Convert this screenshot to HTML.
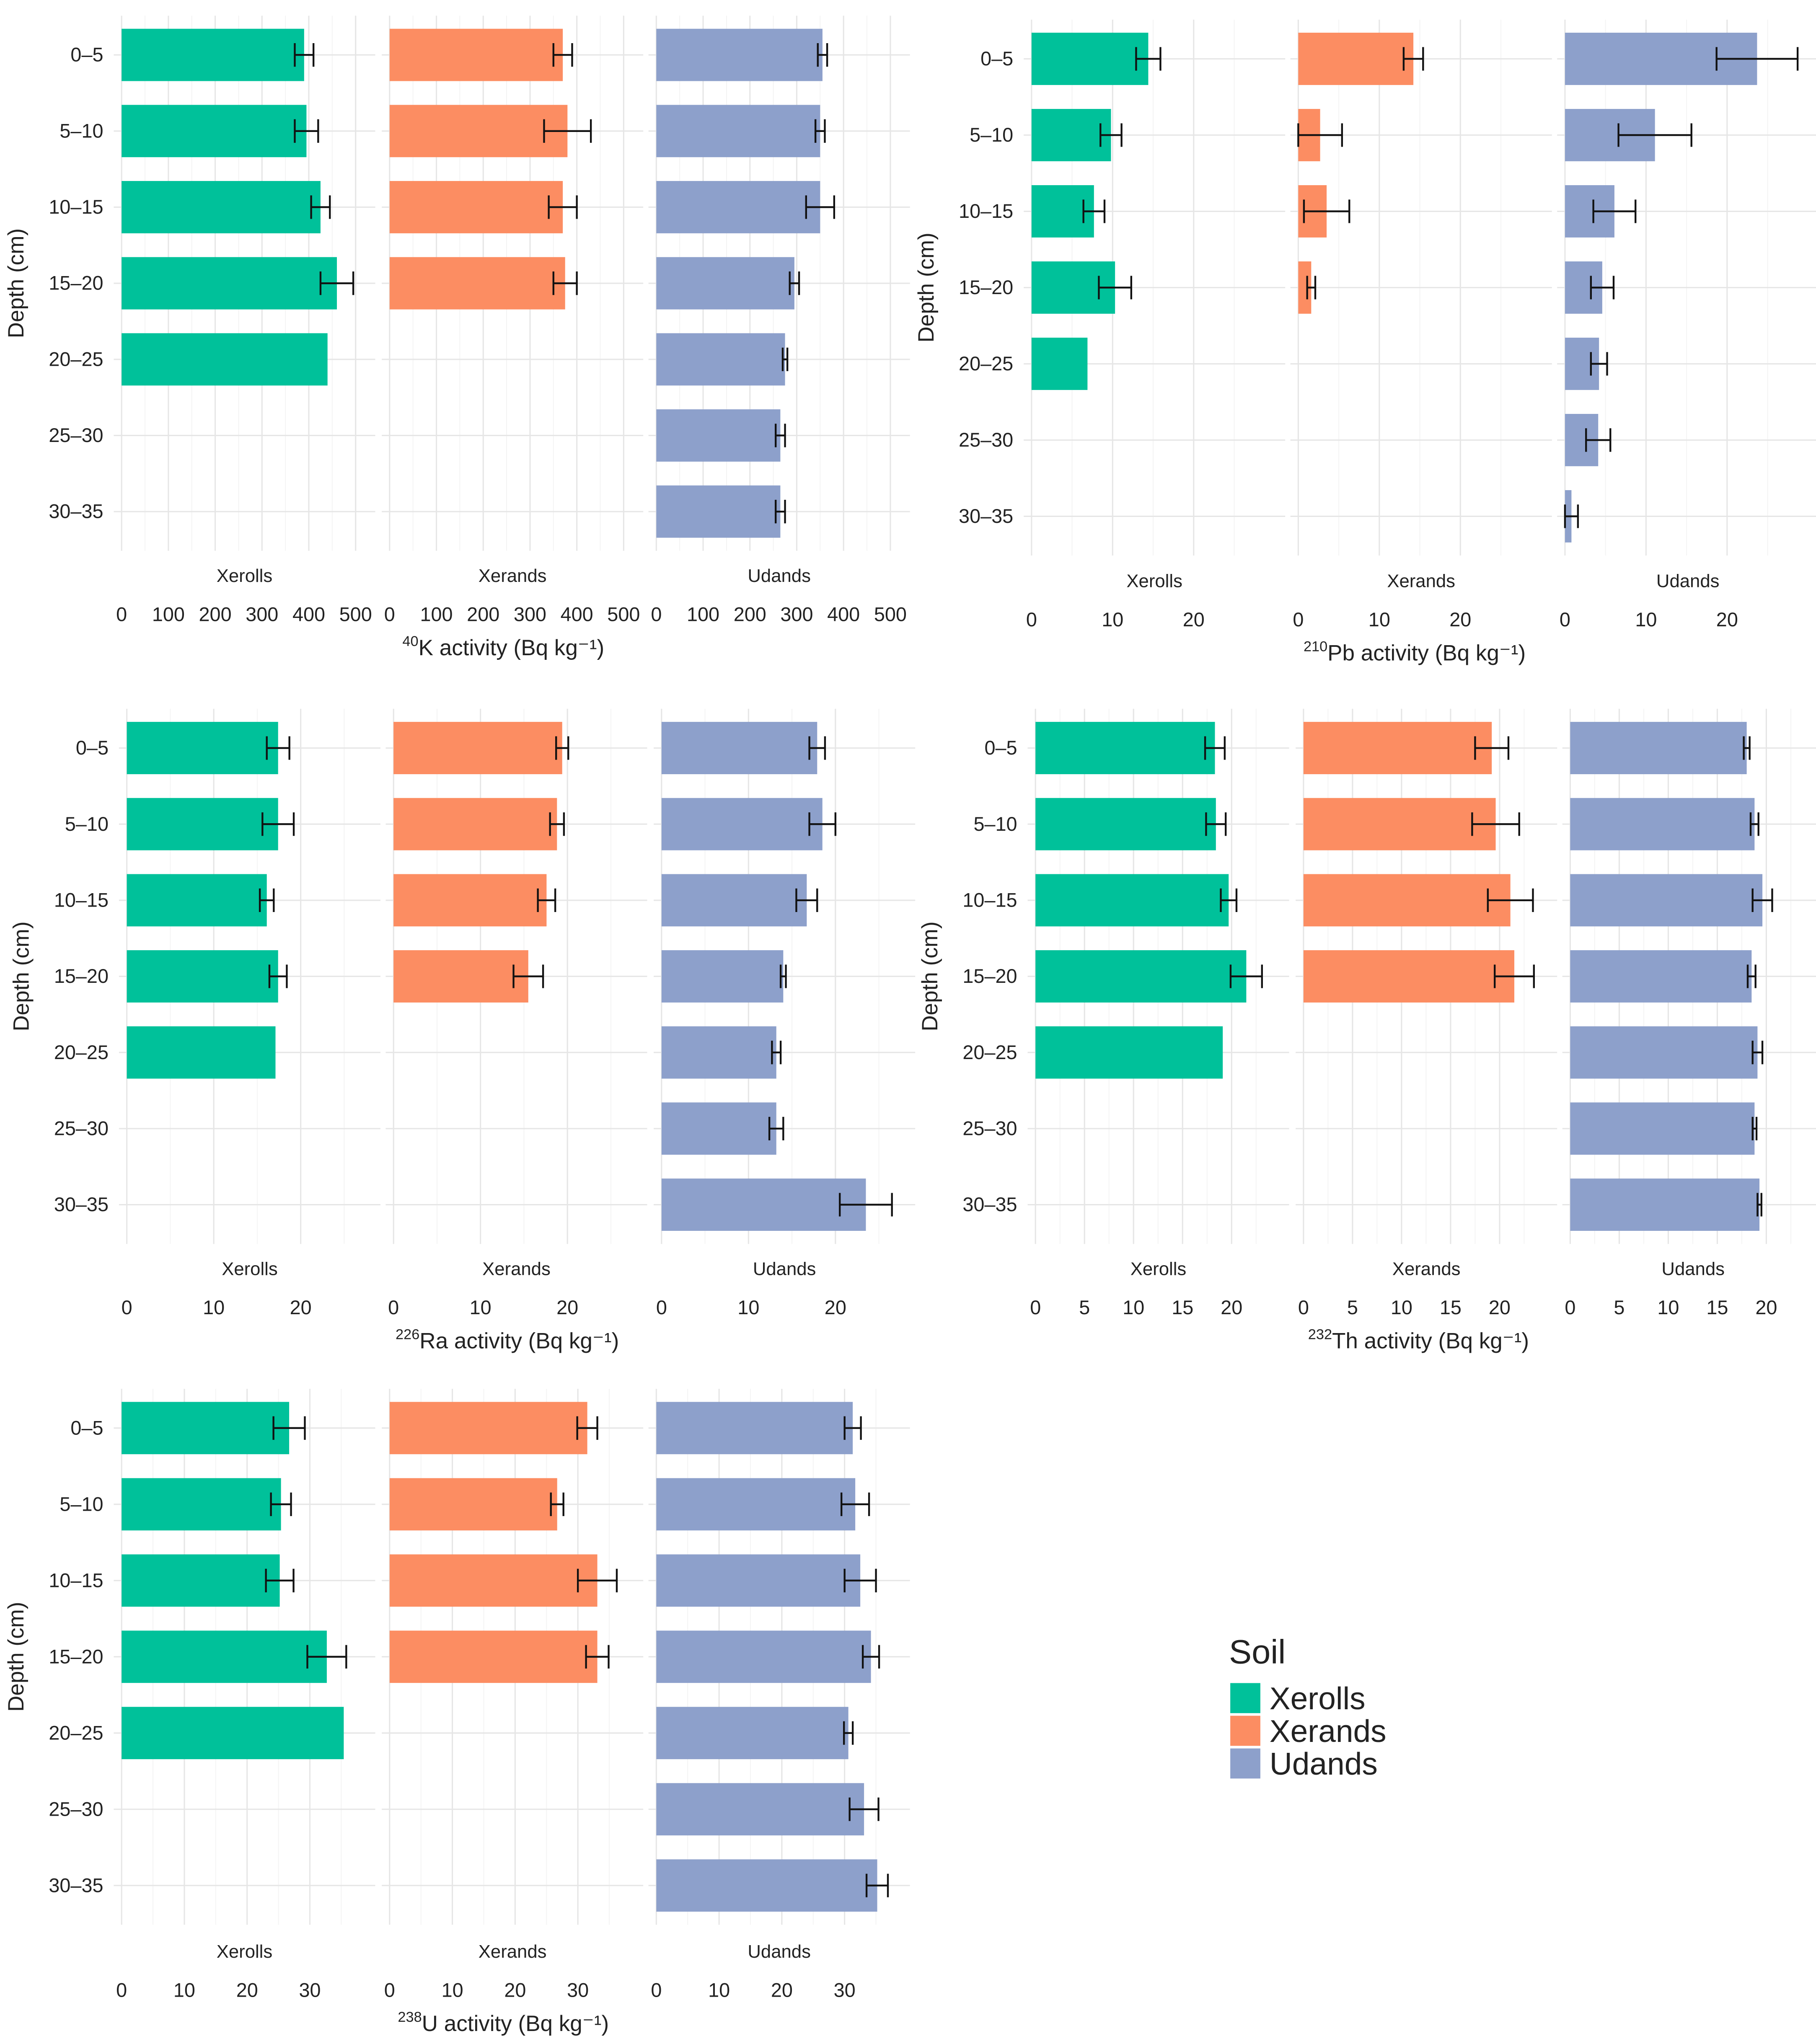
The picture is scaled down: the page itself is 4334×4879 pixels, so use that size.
<!DOCTYPE html>
<html><head><meta charset="utf-8"><style>
html,body{margin:0;padding:0;background:#fff}
svg{display:block}
text{font-family:"Liberation Sans",sans-serif;fill:#222}
</style></head><body>
<svg id="chart" width="4334" height="4879" viewBox="0 0 1389 1563" preserveAspectRatio="none" xmlns="http://www.w3.org/2000/svg"></svg>
<script>
const depths = ["0–5","5–10","10–15","15–20","20–25","25–30","30–35"];
const soils = ["Xerolls","Xerands","Udands"];
const colors = ["#00C19A","#FC8D62","#8DA0CB"];
const kVals = [[390,395,425,460,440],[370,380,370,375],[355,350,350,295,275,265,265]];
const kErr  = [[20,25,20,35,null],[20,50,30,25],[10,10,30,10,5,10,10]];
const pbVals = [[14.4,9.8,7.7,10.3,6.9],[14.2,2.7,3.5,1.6],[23.7,11.1,6.1,4.6,4.2,4.1,0.8]];
const pbErr  = [[1.5,1.3,1.3,2,null],[1.2,2.7,2.8,0.5],[5,4.5,2.6,1.4,1,1.5,0.8]];
const raVals = [[17.4,17.4,16.1,17.4,17.1],[19.4,18.8,17.6,15.5],[17.9,18.5,16.7,14,13.2,13.2,23.5]];
const raErr  = [[1.3,1.8,0.8,1,null],[0.7,0.8,1,1.7],[0.9,1.5,1.2,0.3,0.5,0.8,3]];
const thVals = [[18.3,18.4,19.7,21.5,19.1],[19.2,19.6,21.1,21.5],[18,18.8,19.6,18.5,19.1,18.8,19.3]];
const thErr  = [[1,1,0.8,1.6,null],[1.7,2.4,2.3,2],[0.3,0.4,1,0.4,0.5,0.2,0.2]];
const uVals = [[26.7,25.4,25.2,32.7,35.4],[31.5,26.7,33.1,33.1],[31.3,31.7,32.5,34.2,30.6,33.1,35.2]];
const uErr  = [[2.5,1.6,2.2,3.1,null],[1.6,1,3.1,1.8],[1.3,2.2,2.5,1.3,0.7,2.3,1.7]];
const kTicks=[0,100,200,300,400,500], pbTicks=[0,10,20], raTicks=[0,10,20], thTicks=[0,5,10,15,20], uTicks=[0,10,20,30];

const svg=document.getElementById('chart');
const NS="http://www.w3.org/2000/svg";
function mk(tag,attrs,parent){const e=document.createElementNS(NS,tag);for(const k in attrs)e.setAttribute(k,attrs[k]);(parent||svg).appendChild(e);return e;}

function panel(cfg){
  const g=mk('g',{});
  
  
  const rowY=i=>cfg.y0+i*cfg.dy;
  const top=rowY(0)-30, bot=rowY(6)+30;
  cfg.zeros.forEach((z,s)=>{
    const sx=v=>z+v*cfg.scale;
    const left=z-6, right=z+cfg.width;
    for(let i=0;i<cfg.ticks.length;i++){
      const t=cfg.ticks[i], step=cfg.ticks[1]-cfg.ticks[0];
      const m=t+step/2;
      if(sx(m)<right) mk('line',{x1:sx(m),x2:sx(m),y1:top,y2:bot,stroke:'#f3f3f3','stroke-width':0.6},g);
      mk('line',{x1:sx(t),x2:sx(t),y1:top,y2:bot,stroke:'#e6e6e6','stroke-width':1},g);
    }
    depths.forEach((d,i)=>mk('line',{x1:left,x2:right,y1:rowY(i),y2:rowY(i),stroke:'#e6e6e6','stroke-width':1},g));
    const vals=cfg.vals[s], errs=cfg.errs[s];
    vals.forEach((v,i)=>{
      const b=mk('rect',{x:sx(0),y:rowY(i)-20,width:sx(v)-sx(0),height:40,fill:colors[s]},g);
      
      
      const e=errs[i];
      if(e!=null){
        const a=sx(Math.max(0,v-e)), c=sx(v+e), y=rowY(i);
        const eb=mk('path',{d:`M${a},${y}H${c}M${a},${y-9}V${y+9}M${c},${y-9}V${y+9}`,stroke:'#111','stroke-width':1.4,fill:'none'},g);
        
        
      }
    });
    const st=mk('text',{x:z+cfg.width/2-3,y:cfg.stripY,'font-size':14,'text-anchor':'middle'},g);
    st.textContent=soils[s];
    
    
    cfg.ticks.forEach(t=>{
      const tl=mk('text',{x:sx(t),y:cfg.tickY,'font-size':15,'text-anchor':'middle',fill:'#333'},g);
      tl.textContent=t;
      
      
    });
  });
  depths.forEach((d,i)=>{
    const tl=mk('text',{x:cfg.zeros[0]-14,y:rowY(i)+5,'font-size':15,'text-anchor':'end',fill:'#333'},g);
    tl.textContent=d;
    
    
  });
  const yt=mk('text',{x:0,y:0,'font-size':17,'text-anchor':'middle',transform:`translate(${cfg.zeros[0]-75},${rowY(3)}) rotate(-90)`},g);
  yt.textContent='Depth (cm)';
  
  
  const xt=mk('text',{x:cfg.titleX,y:cfg.titleY,'font-size':17,'text-anchor':'middle'},g);
  
  
  const sup=mk('tspan',{'font-size':11,dy:-7},xt); sup.textContent=cfg.iso;
  const rest=mk('tspan',{dy:7},xt); rest.textContent=cfg.el+' activity (Bq kg⁻¹)';
}

panel({name:'k40-panel',vals:kVals,errs:kErr,ticks:kTicks,zeros:[93,298,502],scale:0.358,width:194,y0:42,dy:58.2,stripY:445,tickY:475,titleY:501,titleX:385,iso:'40',el:'K'});
panel({name:'pb210-panel',vals:pbVals,errs:pbErr,ticks:pbTicks,zeros:[789,993,1197],scale:6.2,width:194,y0:45,dy:58.3,stripY:449,tickY:479,titleY:505,titleX:1082,iso:'210',el:'Pb'});
panel({name:'ra226-panel',vals:raVals,errs:raErr,ticks:raTicks,zeros:[97,301,506],scale:6.65,width:194,y0:572,dy:58.2,stripY:975,tickY:1005,titleY:1031,titleX:388,iso:'226',el:'Ra'});
panel({name:'th232-panel',vals:thVals,errs:thErr,ticks:thTicks,zeros:[792,997,1201],scale:7.5,width:194,y0:572,dy:58.2,stripY:975,tickY:1005,titleY:1031,titleX:1085,iso:'232',el:'Th'});
panel({name:'u238-panel',vals:uVals,errs:uErr,ticks:uTicks,zeros:[93,298,502],scale:4.8,width:194,y0:1092,dy:58.3,stripY:1497,tickY:1527,titleY:1553,titleX:385,iso:'238',el:'U'});

const lg=mk('g',{});


const lt=mk('text',{x:940,y:1272,'font-size':26},lg); lt.textContent='Soil';


soils.forEach((s,i)=>{
  const y=1287+i*25;
  const r=mk('rect',{x:941,y:y,width:23,height:23,fill:colors[i]},lg);
  
  
  const t=mk('text',{x:971,y:y+20,'font-size':24},lg); t.textContent=s;
  
  
});
</script>
</body></html>
